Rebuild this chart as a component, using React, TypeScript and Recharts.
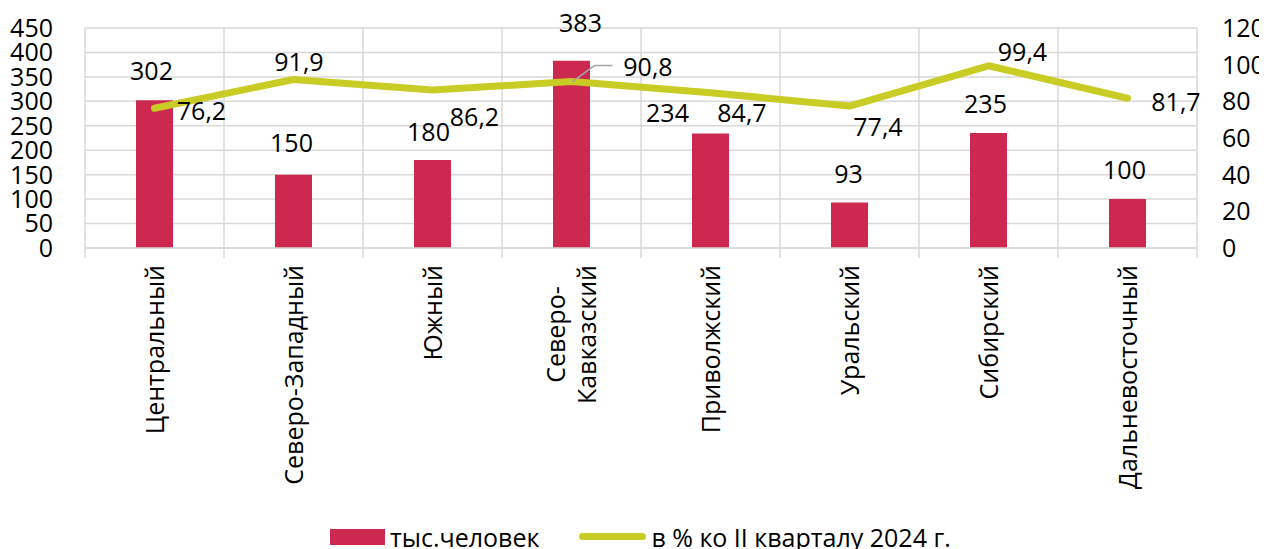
import React from 'react';
import { ComposedChart, Bar, Line, XAxis, YAxis, CartesianGrid, Legend, LabelList } from 'recharts';

const categories = ['Центральный', 'Северо-Западный', 'Южный', 'Северо-Кавказский', 'Приволжский', 'Уральский', 'Сибирский', 'Дальневосточный'];
const tickLabelLines = [['Центральный'], ['Северо-Западный'], ['Южный'], ['Северо-', 'Кавказский'], ['Приволжский'], ['Уральский'], ['Сибирский'], ['Дальневосточный']];
const persons = [302, 150, 180, 383, 234, 93, 235, 100];
const percents = [76.2, 91.9, 86.2, 90.8, 84.7, 77.4, 99.4, 81.7];
const leftTicks = [0, 50, 100, 150, 200, 250, 300, 350, 400, 450];
const rightTicks = [0, 20, 40, 60, 80, 100, 120];
const seriesNames = ['тыс.человек', 'в % ко II кварталу 2024 г.'];

const data = categories.map((c, i) => ({ name: c, persons: persons[i], percent: percents[i] }));

// label placement (offsets from anchor) — style, not data
const BAR_LABEL_OFFSETS = [[-3, -29], [-2, -32], [-4, -28], [9, -38], [-43, -21], [-1, -29], [-3, -29], [-3, -29]];
const LINE_LABEL_OFFSETS = [[47, 3], [5.5, -17.5], [42, 27], [76.5, -14.5], [31.5, 20], [28.5, 21], [34, -14], [48.5, 4]];

const FONT = "'Open Sans', sans-serif";
const FS = 25;
const CHART_W = 1259;
const CHART_H = 541;
const LEFT_W = 77;
const RIGHT_W = 70;
const BAR_COLOR = '#CC2850';
const LINE_COLOR = '#C9CC24';
const GRID = '#D9D9D9';

const BAND = (CHART_W - LEFT_W - RIGHT_W) / categories.length;

let ctx: CanvasRenderingContext2D | null = null;
const measure = (s: string) => {
  if (!ctx) ctx = document.createElement('canvas').getContext('2d');
  if (!ctx) return s.length * FS * 0.55;
  ctx.font = `${FS}px 'Open Sans'`;
  return ctx.measureText(s).width;
};

const fmt = (v: number) => String(v).replace('.', ',');

const XTick = (props: any) => {
  const { x, y, payload } = props;
  const idx = categories.indexOf(payload.value);
  const lines = tickLabelLines[idx] || [payload.value];
  const top = y + 17;
  const lh = 31;
  const maxLen = Math.max(...lines.map(measure));
  return (
    <g>
      <line x1={x - BAND / 2} x2={x - BAND / 2} y1={y} y2={y + 10} stroke={GRID} strokeWidth={1.5} />
      {idx === categories.length - 1 && (
        <line x1={x + BAND / 2} x2={x + BAND / 2} y1={y} y2={y + 10} stroke={GRID} strokeWidth={1.5} />
      )}
      {lines.map((ln: string, i: number) => {
        const lx = x + (i - (lines.length - 1) / 2) * lh;
        if (lines.length === 1) {
          return (
            <text key={i} x={lx} y={top} transform={`rotate(-90 ${lx} ${top})`} textAnchor="end" dy="0.36em" fontSize={FS} fontFamily={FONT} fill="#000">{ln}</text>
          );
        }
        const cy = top + maxLen / 2;
        return (
          <text key={i} x={lx} y={cy} transform={`rotate(-90 ${lx} ${cy})`} textAnchor="middle" dy="0.36em" fontSize={FS} fontFamily={FONT} fill="#000">{ln}</text>
        );
      })}
    </g>
  );
};

const BarLabel = (props: any) => {
  const { x, y, width, value, index } = props;
  const [dx, dy] = BAR_LABEL_OFFSETS[index] || [0, -29];
  return (
    <text x={x + width / 2 + dx} y={y + dy} dy="0.36em" textAnchor="middle" fontSize={FS} fontFamily={FONT} fill="#000">{value}</text>
  );
};

const LineLabel = (props: any) => {
  const { x, y, value, index } = props;
  const [dx, dy] = LINE_LABEL_OFFSETS[index] || [0, -15];
  return (
    <g>
      {index === 3 && (
        <polyline points={`${x + 1},${y} ${x + 23},${y - 16} ${x + 41},${y - 16}`} fill="none" stroke="#A6A6A6" strokeWidth={1.5} />
      )}
      <text x={x + dx} y={y + dy} dy="0.36em" textAnchor="middle" fontSize={FS} fontFamily={FONT} fill="#000">{fmt(value)}</text>
    </g>
  );
};

const LegendContent = () => (
  <div style={{ height: 40, boxSizing: 'border-box', paddingTop: 15, paddingLeft: 322, display: 'flex', alignItems: 'center', fontFamily: FONT, fontSize: FS, color: '#000' }}>
    <div style={{ display: 'flex', alignItems: 'center', height: 24 }}>
      <div style={{ width: 55, height: 16, background: BAR_COLOR, marginRight: 5 }} />
      <span style={{ lineHeight: '24px' }}>{seriesNames[0]}</span>
    </div>
    <div style={{ display: 'flex', alignItems: 'center', height: 24, marginLeft: 40 }}>
      <div style={{ width: 67, height: 7, borderRadius: 4, background: LINE_COLOR, marginRight: 5 }} />
      <span style={{ lineHeight: '24px' }}>{seriesNames[1]}</span>
    </div>
  </div>
);

export default function App() {
  return (
    <ComposedChart width={CHART_W} height={CHART_H} data={data} margin={{ top: 20, right: 0, bottom: 0, left: 0 }} style={{ fontFamily: FONT }}>
      <CartesianGrid
        yAxisId="left"
        stroke={GRID}
        strokeWidth={1.5}
        verticalCoordinatesGenerator={({ offset }: any) =>
          Array.from({ length: categories.length + 1 }, (_, i) => offset.left + (i * offset.width) / categories.length)
        }
      />
      <XAxis
        dataKey="name"
        interval={0}
        height={261}
        tickLine={false}
        tickSize={0}
        tickMargin={0}
        axisLine={{ stroke: GRID, strokeWidth: 1.5 }}
        tick={<XTick />}
      />
      <YAxis
        yAxisId="left"
        domain={[0, 450]}
        ticks={leftTicks}
        interval={0}
        width={LEFT_W}
        axisLine={false}
        tickLine={false}
        tickSize={0}
        tickMargin={32}
        tick={{ fontSize: FS, fill: '#000', fontFamily: FONT }}
      />
      <YAxis
        yAxisId="right"
        orientation="right"
        domain={[0, 120]}
        ticks={rightTicks}
        interval={0}
        width={RIGHT_W}
        axisLine={false}
        tickLine={false}
        tickSize={0}
        tickMargin={25}
        tick={{ fontSize: FS, fill: '#000', fontFamily: FONT, textAnchor: 'start' }}
      />
      <Legend verticalAlign="bottom" content={<LegendContent />} />
      <Bar yAxisId="left" dataKey="persons" name={seriesNames[0]} fill={BAR_COLOR} barSize={37} isAnimationActive={false}>
        <LabelList dataKey="persons" content={<BarLabel />} />
      </Bar>
      <Line
        yAxisId="right"
        dataKey="percent"
        name={seriesNames[1]}
        stroke={LINE_COLOR}
        strokeWidth={7}
        strokeLinecap="round"
        strokeLinejoin="round"
        dot={false}
        activeDot={false}
        isAnimationActive={false}
      >
        <LabelList dataKey="percent" content={<LineLabel />} />
      </Line>
    </ComposedChart>
  );
}
